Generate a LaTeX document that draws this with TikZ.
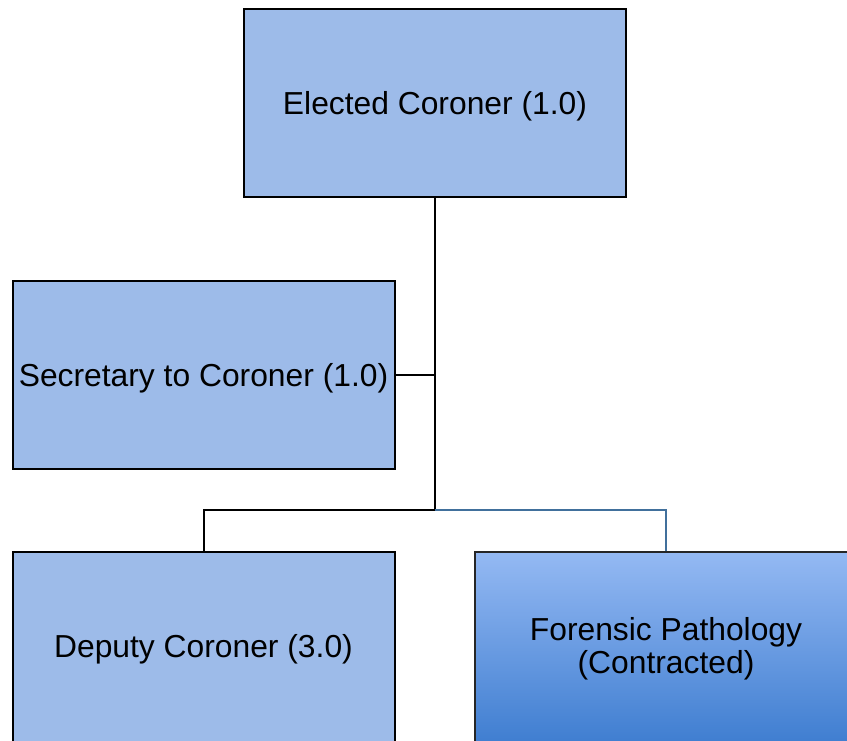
\documentclass[tikz,border=0pt]{standalone}
\usepackage{fontspec}
\setmainfont{Liberation Sans}
\definecolor{boxblue}{HTML}{9DBBE9}
\definecolor{linkblue}{HTML}{41709C}
\definecolor{shadetop}{HTML}{94B9F3}
\definecolor{shadebot}{HTML}{3E7DD0}
\begin{document}
\begin{tikzpicture}[x=1pt,y=-1pt,
  orgbox/.style={draw=black, line width=2pt, fill=boxblue,
    minimum width=382pt, minimum height=188pt, inner sep=0pt,
    font=\fontsize{31.8}{33.5}\selectfont, align=center},
  lowbox/.style={orgbox, minimum height=194pt},
  contractbox/.style={lowbox, draw=black!85, line width=1.5pt,
    top color=shadetop, bottom color=shadebot},
  link/.style={line width=2pt, draw=black},
  bluelink/.style={line width=2pt, draw=linkblue}]
\useasboundingbox (0,0) rectangle (847,741);
\clip (0,0) rectangle (847,741);

% positions
\node[orgbox, text depth=0pt] (elected) at (435,103) {Elected Coroner (1.0)};
\node[orgbox, text depth=0pt] (secretary) at (203.5,375) {Secretary to Coroner (1.0)};
\node[lowbox] (deputy) at (203.5,649) {Deputy Coroner (3.0)};
\node[contractbox] (forensic) at (666,649) {Forensic Pathology\\(Contracted)};

% connectors
\coordinate (split) at (435,510);
\draw[link] (elected.south) -- (split);
\draw[link] (secretary.east) -- (secretary.east -| split);
\draw[link] (deputy.north) |- ([xshift=1pt]split);
\draw[bluelink] (split) -| (forensic.north);
\end{tikzpicture}
\end{document}
